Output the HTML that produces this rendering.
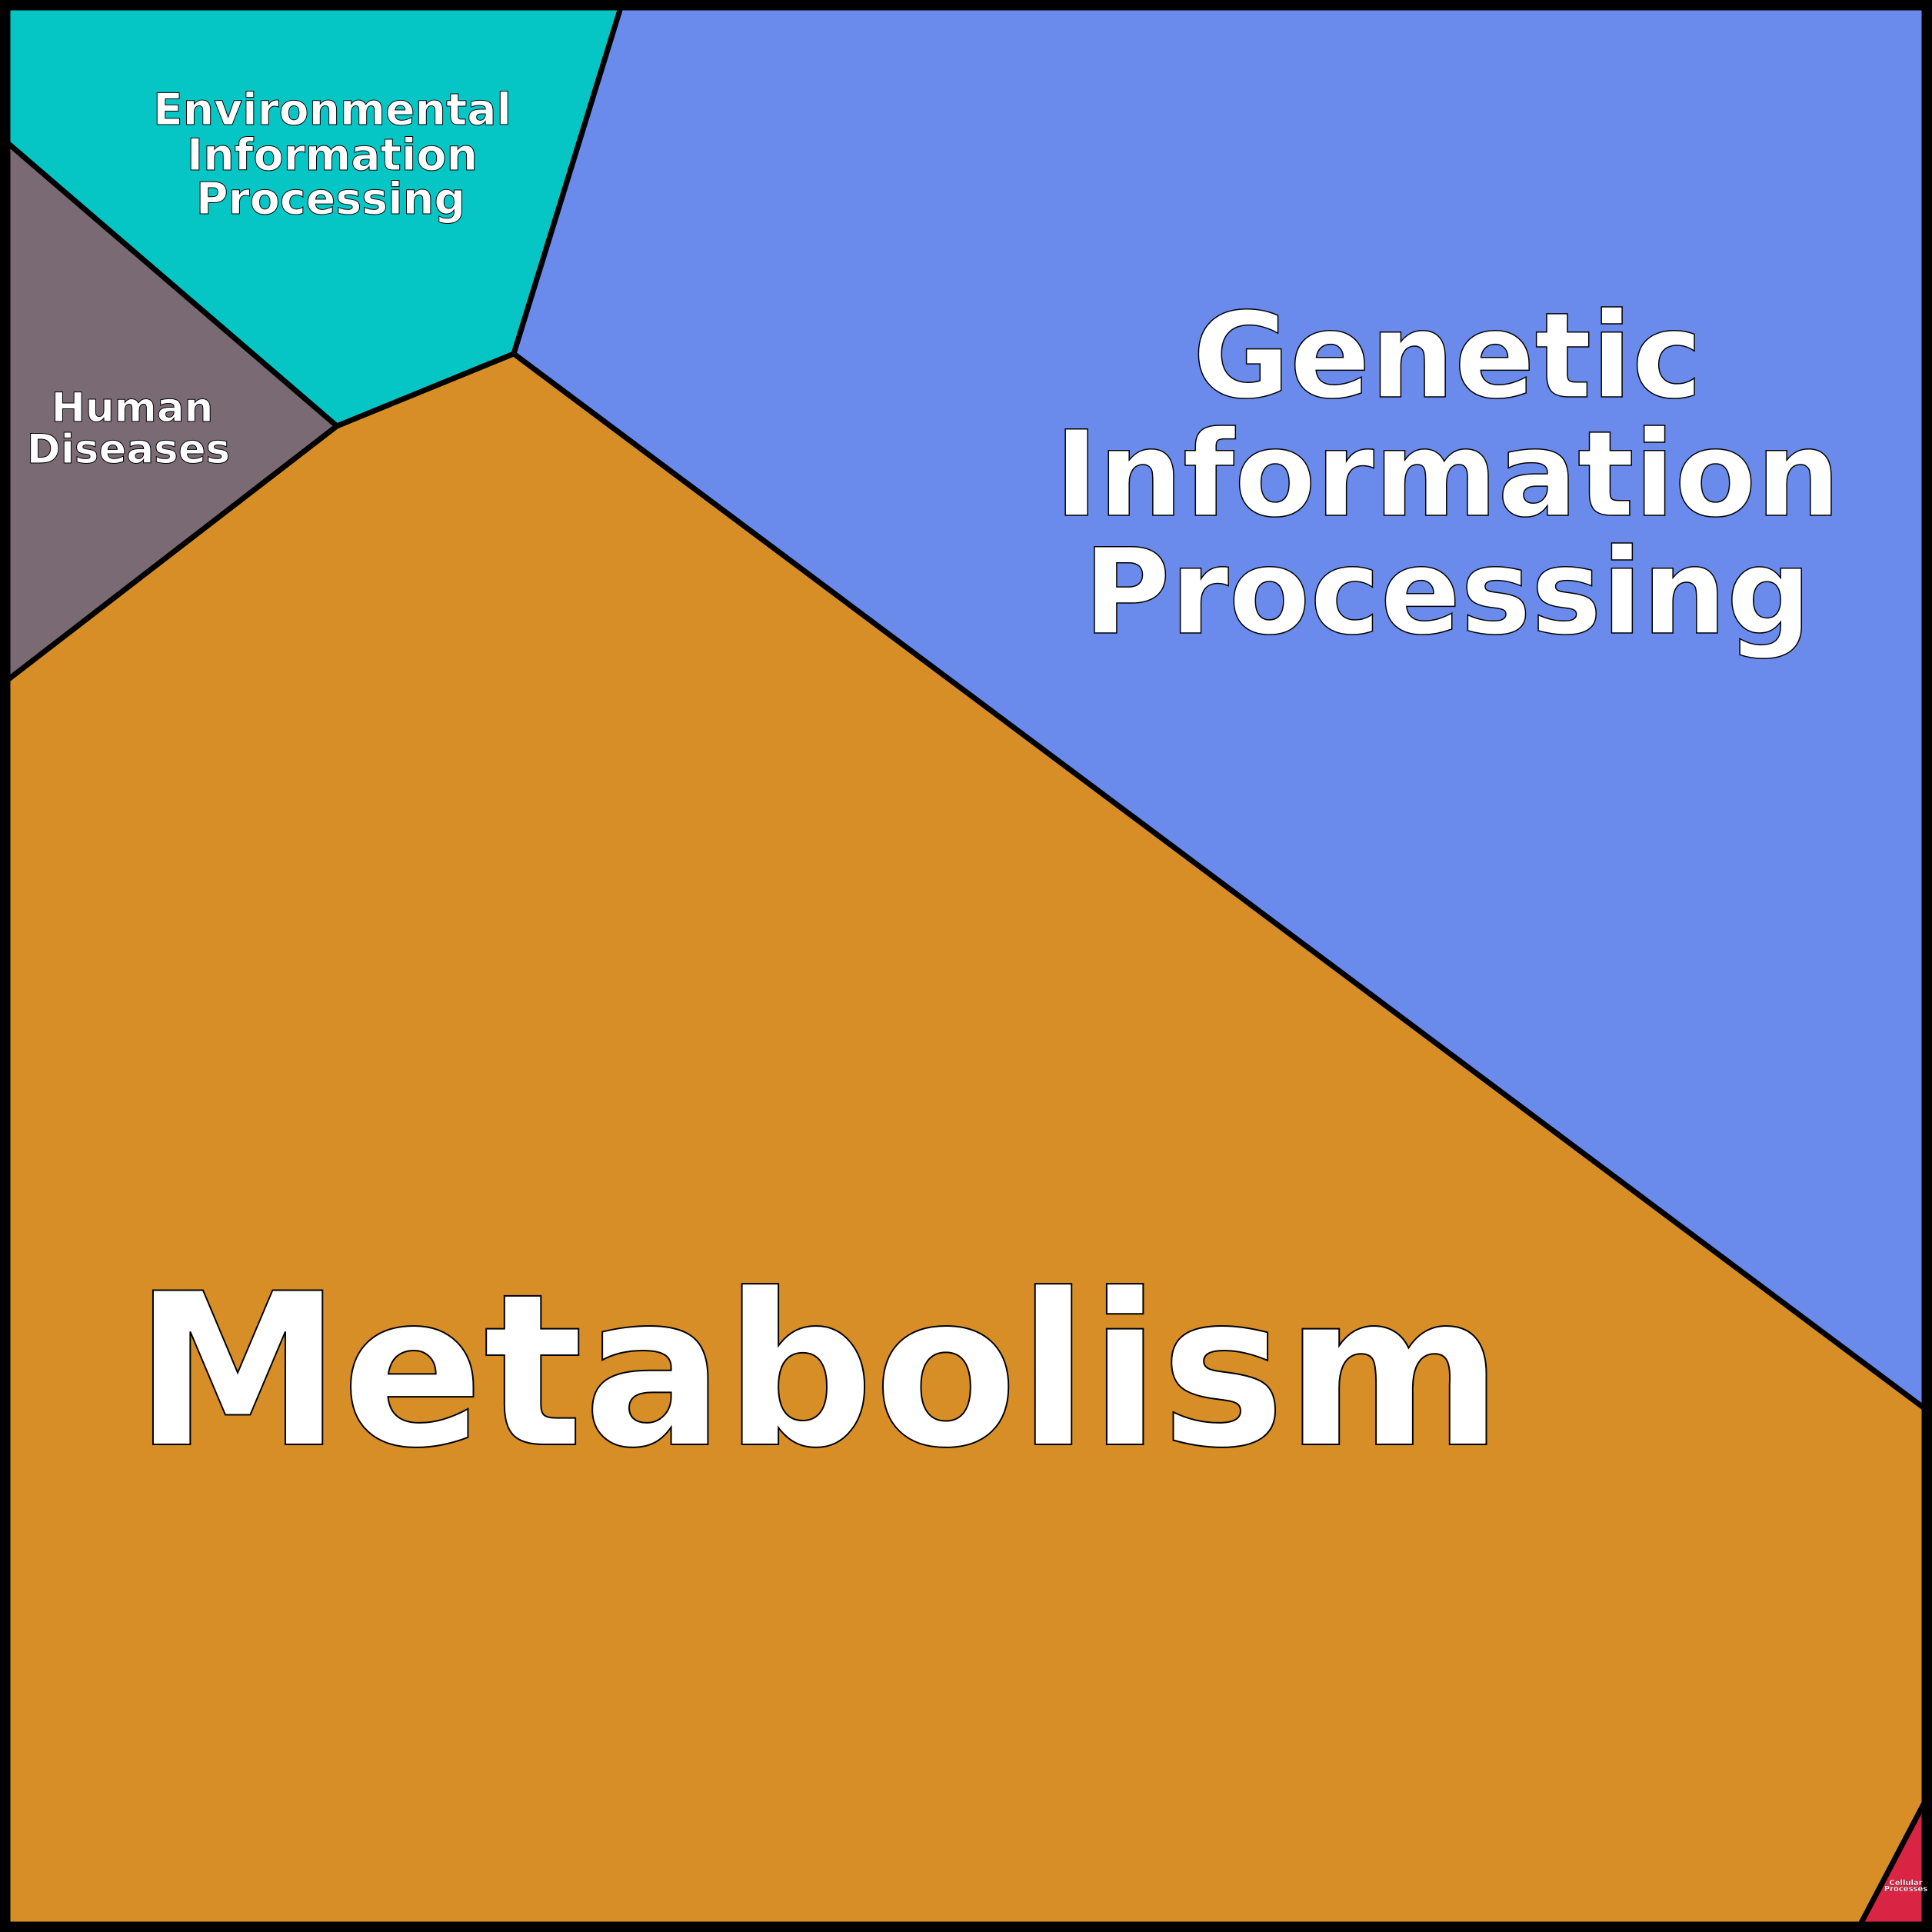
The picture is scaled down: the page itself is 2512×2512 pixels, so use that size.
<!DOCTYPE html>
<html><head><style>html,body{margin:0;padding:0;background:#000}svg{display:block}</style></head>
<body>
<svg width="2512" height="2512" viewBox="0 0 2512 2512" xmlns="http://www.w3.org/2000/svg">
<rect x="0" y="0" width="2512" height="2512" fill="#000"/>
<g stroke="#000" stroke-width="7" stroke-linejoin="round">
<polygon points="10,186 10,10 807,10 668,460 438,554" fill="#05c5c5"/>
<polygon points="807,10 2502,10 2502,1831 668,460" fill="#6a8bec"/>
<polygon points="10,186 438,554 10,884" fill="#7a6a73"/>
<polygon points="10,884 438,554 668,460 2502,1831 2502,2344 2419,2502 10,2502" fill="#d88e27"/>
<polygon points="2502,2344 2502,2502 2419,2502" fill="#da2444"/>
</g>
<rect x="5" y="5" width="2502" height="2502" fill="none" stroke="#000" stroke-width="11"/>
<g font-family="DejaVu Sans, Liberation Sans, sans-serif" font-weight="bold" fill="#fff" stroke="#000" text-anchor="middle">
<g font-size="57" stroke-width="1">
<text x="432" y="162" textLength="466" lengthAdjust="spacingAndGlyphs">Environmental</text>
<text x="432" y="221">Information</text>
<text x="430" y="278">Processing</text>
</g>
<g font-size="53" stroke-width="1">
<text x="172" y="548">Human</text>
<text x="167" y="602">Diseases</text>
</g>
<g font-size="154" stroke-width="1.5">
<text x="1882" y="516">Genetic</text>
<text x="1882" y="670">Information</text>
<text x="1882" y="823">Processing</text>
</g>
<text x="1064" y="1878" font-size="275" stroke-width="2" textLength="1780" lengthAdjust="spacingAndGlyphs">Metabolism</text>
<g font-size="10" stroke-width="0.2">
<text x="2478" y="2451">Cellular</text>
<text x="2478" y="2459">Processes</text>
</g>
</g>
</svg>
</body></html>
